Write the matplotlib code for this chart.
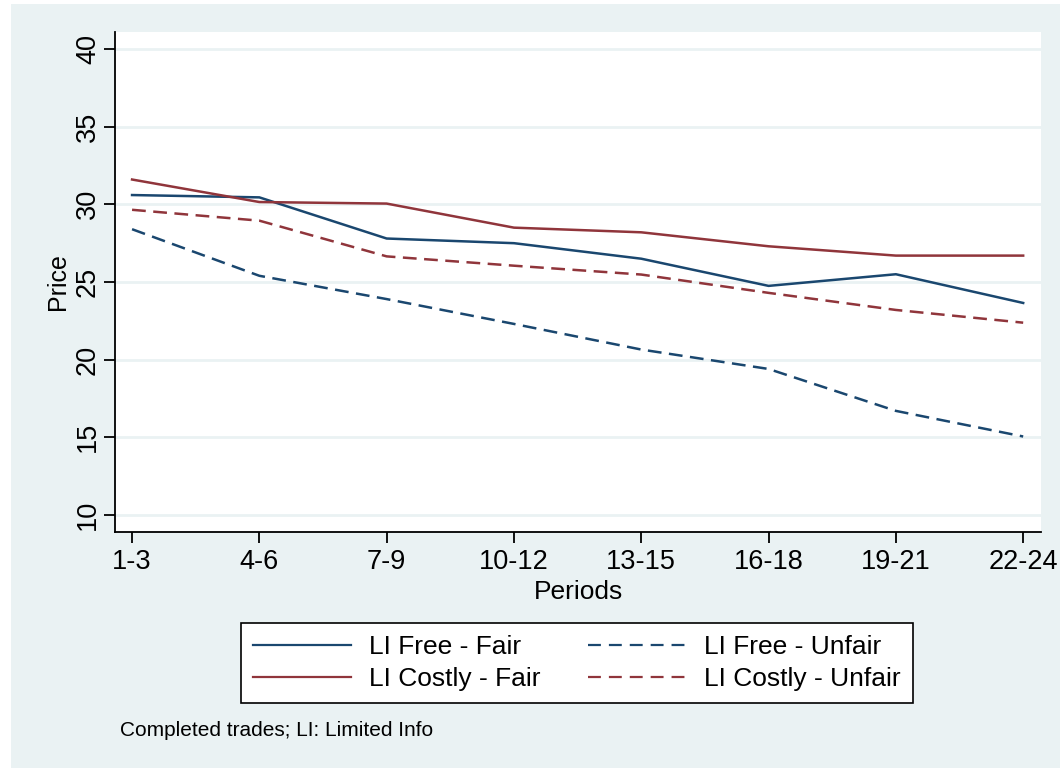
import matplotlib
matplotlib.use("Agg")
import matplotlib.pyplot as plt
from matplotlib.patches import Rectangle

# datos
periodos = ["1-3", "4-6", "7-9", "10-12", "13-15", "16-18", "19-21", "22-24"]
free_fair = [30.6, 30.45, 27.8, 27.5, 26.5, 24.75, 25.5, 23.65]
free_unfair = [28.4, 25.4, 23.9, 22.3, 20.65, 19.4, 16.7, 15.05]
costly_fair = [31.6, 30.15, 30.05, 28.5, 28.2, 27.3, 26.7, 26.7]
costly_unfair = [29.65, 28.95, 26.65, 26.05, 25.48, 24.3, 23.2, 22.38]
yticks = [10, 15, 20, 25, 30, 35, 40]

navy = "#1a476f"
maroon = "#90353b"
fondo = "#eaf2f3"

plt.rcParams['font.family'] = ['Liberation Sans', 'DejaVu Sans']

fig = plt.figure(figsize=(10.6, 7.68), dpi=100)
fig.patch.set_facecolor("white")
# panel de fondo celeste
panel = Rectangle((11 / 1060, 0), 1 - 11 / 1060, 1 - 4 / 768,
                  transform=fig.transFigure, facecolor=fondo,
                  edgecolor="none", zorder=-10)
fig.add_artist(panel)

ax = fig.add_axes([115 / 1060, 1 - 532 / 768, (1041 - 115) / 1060, (532 - 32) / 768])
ax.set_zorder(1)
ax.set_facecolor("white")
x = list(range(len(periodos)))
guion = (0, (5.5, 3))
ax.plot(x, free_fair, color=navy, lw=1.8, label="LI Free - Fair")
ax.plot(x, free_unfair, color=navy, lw=1.8, ls=guion, label="LI Free - Unfair")
ax.plot(x, costly_fair, color=maroon, lw=1.8, label="LI Costly - Fair")
ax.plot(x, costly_unfair, color=maroon, lw=1.8, ls=guion, label="LI Costly - Unfair")

ax.set_xlim(-0.134, 7.14)
ax.set_ylim(8.9, 41.1)
ax.set_xticks(x)
ax.set_xticklabels(periodos, fontsize=19.5)
ax.set_yticks(yticks)
ax.set_yticklabels([str(v) for v in yticks], fontsize=19.5, rotation=90, va="center")
ax.grid(axis="y", color=fondo, lw=2)
ax.set_axisbelow(True)
for s in ["top", "right"]:
    ax.spines[s].set_visible(False)
ax.spines["left"].set_linewidth(1.3)
ax.spines["bottom"].set_linewidth(1.3)
ax.tick_params(axis="x", length=8, width=1.3, pad=4)
ax.tick_params(axis="y", length=8, width=1.3, pad=2)
ax.set_xlabel("Periods", fontsize=19, labelpad=4)
ax.set_ylabel("Price", fontsize=18, labelpad=4)

handles, labels = ax.get_legend_handles_labels()
order = [0, 2, 1, 3]
leg = fig.legend([handles[i] for i in order], [labels[i] for i in order],
                 loc="center", bbox_to_anchor=(577 / 1060, 1 - 663 / 768),
                 ncol=2, fontsize=19, frameon=True, fancybox=False,
                 framealpha=1, handlelength=3.7, columnspacing=1.8,
                 borderpad=0.45, labelspacing=0.3, handletextpad=0.7)
leg.get_frame().set_edgecolor("black")
leg.get_frame().set_linewidth(1.2)
for h in leg.get_lines():
    if h.get_linestyle() != "-":
        h.set_linestyle((0, (5.8, 3.6)))
    h.set_linewidth(1.6)

fig.text(120 / 1060, 1 - 731 / 768, "Completed trades; LI: Limited Info",
         fontsize=15, va="center")

fig.savefig("out.png", dpi=100)
